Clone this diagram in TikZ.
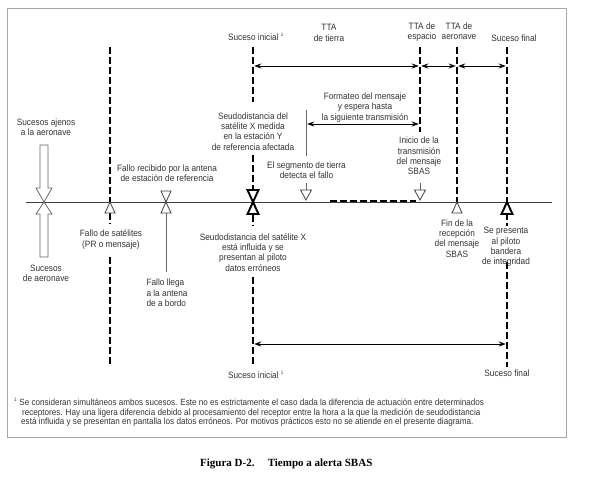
\documentclass[tikz,border=0pt]{standalone}
\usepackage{fontspec}
\setmainfont{Liberation Sans}[FakeStretch=0.9]
\newfontfamily\titlefont{Liberation Serif}
\usetikzlibrary{arrows.meta}
\begin{document}
\begin{tikzpicture}[x=1pt,y=-1pt,
  lbl/.style={font=\fontsize{9.2}{10.3}\selectfont, align=center, inner sep=0pt, text=black!80},
  fn/.style={font=\fontsize{9}{9.5}\selectfont, inner sep=0pt, anchor=base west, text=black!80},
  dl/.style={line width=1.4pt, dash pattern=on 7pt off 3pt},
  ar/.style={line width=1pt, {Stealth[length=7pt,width=5pt]}-{Stealth[length=7pt,width=5pt]}, shorten <=1.2pt, shorten >=1.2pt},
  tri/.style={draw=black!75, line width=0.8pt, fill=white, line join=miter},
  btri/.style={draw=black, line width=1.9pt, fill=white, line join=miter},
  thin/.style={draw=black!60, line width=0.8pt},
  bigarr/.style={draw=black!60, line width=0.8pt, fill=white, line join=miter},
]
\useasboundingbox (0,0) rectangle (589,479);
\fill[white] (0,0) rectangle (589,479);
\draw[black!35, line width=0.8pt] (7,8) rectangle (566,437);

% named positions
\coordinate (axL) at (26,202);
\coordinate (axR) at (552,202);
\coordinate (A0) at (110,47);  \coordinate (A1) at (110,202);
\coordinate (A2) at (110,213); \coordinate (A3) at (110,224);
\coordinate (A4) at (110,257); \coordinate (A5) at (110,367);
\coordinate (B0) at (253,47);  \coordinate (B1) at (253,102);
\coordinate (B2) at (253,155); \coordinate (B3) at (253,190);
\coordinate (B4) at (253,215); \coordinate (B5) at (253,226);
\coordinate (B6) at (253,277); \coordinate (B7) at (253,367);
\coordinate (C0) at (420,47);  \coordinate (C1) at (420,132);
\coordinate (D0) at (457,47);  \coordinate (D1) at (457,202);
\coordinate (E0) at (507,47);  \coordinate (E1) at (507,202);
\coordinate (E2) at (507,213); \coordinate (E3) at (507,226);
\coordinate (E4) at (507,262); \coordinate (E5) at (507,367);
\coordinate (T1) at (253,66); \coordinate (T2) at (420,66);
\coordinate (T3) at (457,66); \coordinate (T4) at (507,66);
\coordinate (M1) at (306,124); \coordinate (M2) at (420,124);
\coordinate (S0) at (306,110); \coordinate (S1) at (306,156);
\coordinate (L1) at (253,344); \coordinate (L2) at (507,344);
\coordinate (G0) at (330,201); \coordinate (G1) at (416,201);
\coordinate (F0) at (166,213); \coordinate (F1) at (166,272);

% axis
\draw[black!75, line width=0.7pt] (axL) -- (axR);

% dashed vertical lines
\draw[dl] (A0) -- (A1);
\draw[dl] (A2) -- (A3);
\draw[dl] (A4) -- (A5);
\draw[dl] (B0) -- (B1);
\draw[dl] (B2) -- (B3);
\draw[dl] (B4) -- (B5);
\draw[dl] (B6) -- (B7);
\draw[dl] (C0) -- (C1);
\draw[dl] (D0) -- (D1);
\draw[dl] (E0) -- (E1);
\draw[dl] (E2) -- (E3);
\draw[dl] (E4) -- (E5);
\draw[dl] (G0) -- (G1);

% arrows
\draw[ar] (T1) -- (T2);
\draw[ar] (T2) -- (T3);
\draw[ar] (T3) -- (T4);
\draw[ar] (M1) -- (M2);
\draw[ar] (L1) -- (L2);
\draw[thin] (S0) -- (S1);
\draw[thin] (F0) -- (F1);

% triangles on the axis
\draw[tri] (110,202) -- (115,213) -- (105,213) -- cycle;
\draw[tri] (166,202) -- (171,191) -- (161,191) -- cycle;
\draw[tri] (166,202) -- (171,213) -- (161,213) -- cycle;
\draw[btri] (253,202) -- (258.5,190) -- (247.5,190) -- cycle;
\draw[btri] (253,202) -- (258.5,214) -- (247.5,214) -- cycle;
\draw[tri] (457,202) -- (462,213) -- (452,213) -- cycle;
\draw[btri] (507,202) -- (512.5,214) -- (501.5,214) -- cycle;
\draw[thin] (306,183) -- (306,190);
\draw[tri] (306,200) -- (311.5,190) -- (300.5,190) -- cycle;
\draw[thin] (420,183) -- (420,190);
\draw[tri] (420,200) -- (425.5,190) -- (414.5,190) -- cycle;

% open block arrows
\draw[bigarr] (40,145) -- (48,145) -- (48,188) -- (52,188) -- (44,202) -- (36,188) -- (40,188) -- cycle;
\draw[bigarr] (44,202) -- (52,214) -- (48,214) -- (48,257) -- (40,257) -- (40,214) -- (36,214) -- cycle;

% labels
\node[lbl] (n1) at (256,37) {Suceso inicial \textsuperscript{\tiny 1}};
\node[lbl] (n2) at (329,33) {TTA\\de tierra};
\node[lbl] (n3) at (422,32) {TTA de\\espacio};
\node[lbl] (n4) at (459,31) {TTA de\\aeronave};
\node[lbl] (n5) at (514,38) {Suceso final};
\node[lbl] (n6) at (365,107.5) {Formateo del mensaje\\y espera hasta\\la siguiente transmisión};
\node[lbl] (n7) at (253,131.5) {Seudodistancia del\\satélite X medida\\en la estación Y\\de referencia afectada};
\node[lbl] (n8) at (46,127) {Sucesos ajenos\\a la aeronave};
\node[lbl] (n9) at (167,173) {Fallo recibido por la antena\\de estación de referencia};
\node[lbl] (n10) at (306.5,170.5) {El segmento de tierra\\detecta el fallo};
\node[lbl] (n11) at (419,156) {Inicio de la\\transmisión\\del mensaje\\SBAS};
\node[lbl] (n12) at (111,239.5) {Fallo de satélites\\(PR o mensaje)};
\node[lbl] (n13) at (253,252.5) {Seudodistancia del satélite X\\está influida y se\\presentan al piloto\\datos erróneos};
\node[lbl] (n14) at (46,273.5) {Sucesos\\de aeronave};
\node[lbl, align=left] (n15) at (167,293) {Fallo llega\\a la antena\\de a bordo};
\node[lbl] (n16) at (457,238.5) {Fin de la\\recepción\\del mensaje\\SBAS};
\node[lbl] (n17) at (506,247) {Se presenta\\al piloto\\bandera\\de integridad};
\node[lbl] (n18) at (256,375) {Suceso inicial \textsuperscript{\tiny 1}};
\node[lbl] (n19) at (507,373) {Suceso final};

% footnote
\node[fn] (f1) at (14,405) {\textsuperscript{\tiny 1} Se consideran simultáneos ambos sucesos. Este no es estrictamente el caso dada la diferencia de actuación entre determinados};
\node[fn] (f2) at (22,415) {receptores. Hay una ligera diferencia debido al procesamiento del receptor entre la hora a la que la medición de seudodistancia};
\node[fn] (f3) at (21,424.5) {está influida y se presentan en pantalla los datos erróneos. Por motivos prácticos esto no se atiende en el presente diagrama.};

% caption
\node[inner sep=0pt, anchor=base west, font=\titlefont\bfseries\fontsize{11}{12}\selectfont] (cap) at (200,466) {Figura D-2.\hspace{1.2em}Tiempo a alerta SBAS};
\end{tikzpicture}
\end{document}
